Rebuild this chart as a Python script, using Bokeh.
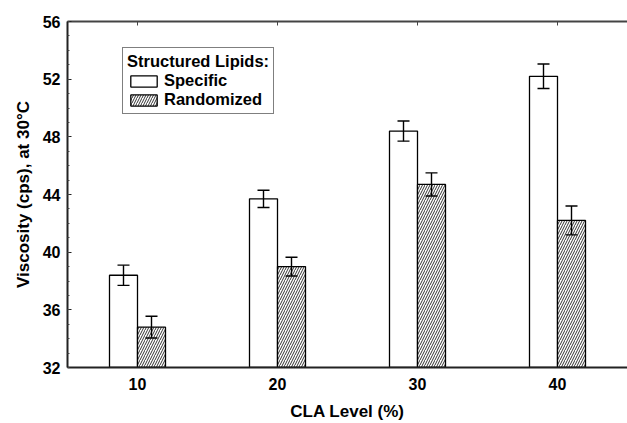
from bokeh.plotting import figure
from bokeh.models import (ColumnDataSource, Whisker, LinearAxis, SingleIntervalTicker,
                          FixedTicker, Range1d, Legend, LegendItem, TeeHead,
                          CustomJSTickFormatter)
from bokeh.embed import file_html
from bokeh.resources import INLINE

# ---- data ----
cla_levels = [10, 20, 30, 40]
specific = [38.4, 43.7, 48.4, 52.2]
specific_err = [0.7, 0.6, 0.7, 0.85]
randomized = [34.8, 39.0, 44.7, 42.2]
randomized_err = [0.75, 0.65, 0.8, 1.0]

FONT = "Liberation Sans"
bar_w = 2.0

src_s = ColumnDataSource(dict(
    x=[c - bar_w / 2 for c in cla_levels], top=specific,
    upper=[v + e for v, e in zip(specific, specific_err)],
    lower=[v - e for v, e in zip(specific, specific_err)]))
src_r = ColumnDataSource(dict(
    x=[c + bar_w / 2 for c in cla_levels], top=randomized,
    upper=[v + e for v, e in zip(randomized, randomized_err)],
    lower=[v - e for v, e in zip(randomized, randomized_err)]))

p = figure(width=627, height=423, output_backend="svg", toolbar_location=None,
           x_range=Range1d(5, 45), y_range=Range1d(32, 56),
           min_border_left=67, min_border_right=0, min_border_top=21, min_border_bottom=54,
           background_fill_color="white", border_fill_color="white")
p.outline_line_color = None
p.grid.visible = False

r_s = p.vbar(x="x", top="top", bottom=32, width=bar_w, source=src_s,
             fill_color="white", line_color="black", line_width=1.3)
r_r = p.vbar(x="x", top="top", bottom=32, width=bar_w, source=src_r,
             fill_color="white", line_color="black", line_width=1.3,
             hatch_pattern="/", hatch_scale=5, hatch_weight=1, hatch_color="#333333")

for src in (src_s, src_r):
    w = Whisker(base="x", upper="upper", lower="lower", source=src, level="overlay",
                line_color="black", line_width=1.4,
                upper_head=TeeHead(size=12, line_color="black", line_width=1.4),
                lower_head=TeeHead(size=12, line_color="black", line_width=1.4))
    p.add_layout(w)

# bottom axis
xa = p.xaxis[0]
xa.ticker = FixedTicker(ticks=cla_levels)
xa.major_tick_in = 0
xa.major_tick_out = 0
xa.minor_tick_in = 0
xa.minor_tick_out = 0
xa.major_label_standoff = 10
xa.axis_line_width = 2
xa.axis_line_color = "#222222"
xa.major_label_text_font = FONT
xa.major_label_text_font_style = "bold"
xa.major_label_text_font_size = "16px"
xa.major_label_text_color = "black"
xa.axis_label = "CLA Level (%)"
xa.axis_label_text_font = FONT
xa.axis_label_text_font_style = "bold"
xa.axis_label_text_font_size = "17px"
xa.axis_label_text_color = "black"
xa.axis_label_standoff = 9

# left axis
ya = p.yaxis[0]
ya.ticker = SingleIntervalTicker(interval=4, num_minor_ticks=4)
ya.major_tick_in = 4
ya.major_tick_out = 0
ya.minor_tick_in = 2
ya.minor_tick_out = 0
ya.major_label_standoff = 7
ya.axis_line_width = 2
ya.axis_line_color = "#222222"
ya.major_tick_line_color = "#222222"
ya.minor_tick_line_color = "#444444"
ya.major_label_text_font = FONT
ya.major_label_text_font_style = "bold"
ya.major_label_text_font_size = "16px"
ya.major_label_text_color = "black"
ya.axis_label = "Viscosity (cps), at 30°C"
ya.axis_label_text_font = FONT
ya.axis_label_text_font_style = "bold"
ya.axis_label_text_font_size = "17px"
ya.axis_label_text_color = "black"
ya.axis_label_standoff = 7

# top axis (frame line with inward ticks, no labels)
top = LinearAxis(ticker=FixedTicker(ticks=cla_levels), major_tick_in=4, major_tick_out=0,
                 minor_tick_in=0, minor_tick_out=0,
                 formatter=CustomJSTickFormatter(code="return ''"),
                 major_label_standoff=0, axis_line_width=2, axis_line_color="#444444",
                 major_tick_line_color="#444444")
p.add_layout(top, "above")

legend = Legend(items=[LegendItem(label="Specific", renderers=[r_s]),
                       LegendItem(label="Randomized", renderers=[r_r])],
                location=(55, 253), title="Structured Lipids:",
                title_text_font=FONT, title_text_font_style="bold", title_text_font_size="16.5px",
                title_text_color="black", title_standoff=0,
                label_text_font=FONT, label_text_font_style="bold", label_text_font_size="16.5px",
                label_text_color="black",
                label_height=14, glyph_height=14, glyph_width=33, label_standoff=4,
                spacing=0, padding=4, margin=0,
                border_line_color="black", border_line_width=1.5,
                background_fill_alpha=1.0)
p.add_layout(legend, "center")

open("out.html", "w").write(file_html(p, INLINE))
